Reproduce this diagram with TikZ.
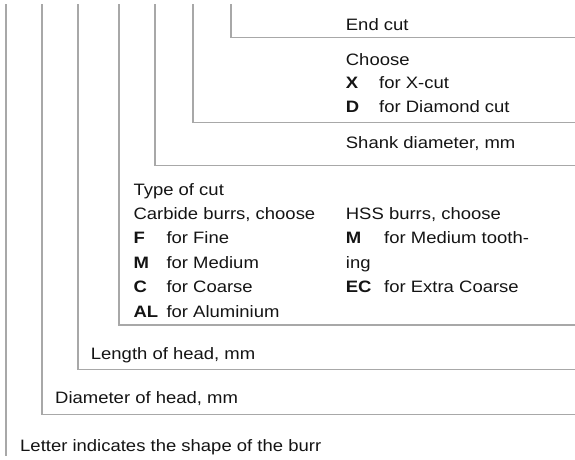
\documentclass[tikz,border=0pt]{standalone}
\usepackage{fontspec}
\setmainfont{Liberation Sans}[FakeStretch=1.12]
\definecolor{linegray}{RGB}{168,168,168}
\definecolor{txt}{RGB}{20,20,20}
\begin{document}
\begin{tikzpicture}[x=1pt,y=-1pt,
  lbl/.style={anchor=base west,inner sep=0pt,text=txt,font=\fontsize{16.5}{24}\selectfont},
  code/.style={lbl,font=\fontsize{16.5}{24}\selectfont\bfseries},
  leader/.style={draw=linegray,line width=1.3pt}]
\useasboundingbox (0,0) rectangle (575,459);
% leader corners
\coordinate (t1) at (6,4);   \coordinate (e1) at (6,456);
\coordinate (t2) at (42,4);  \coordinate (e2) at (575,414.3);
\coordinate (t3) at (78,4);  \coordinate (e3) at (575,369.3);
\coordinate (t4) at (119,4); \coordinate (e4) at (575,325);
\coordinate (t5) at (155,4); \coordinate (e5) at (575,165.7);
\coordinate (t6) at (193,4); \coordinate (e6) at (575,122.7);
\coordinate (t7) at (231,4); \coordinate (e7) at (575,37.7);
\draw[leader] (t1) -- (e1);
\draw[leader] (t2) |- (e2);
\draw[leader] (t3) |- (e3);
\draw[leader] (t4) |- (e4);
\draw[leader] (t5) |- (e5);
\draw[leader] (t6) |- (e6);
\draw[leader] (t7) |- (e7);
% texts
\node[lbl] (endcut) at (345.7,30.6) {End cut};
\node[lbl] (choose) at (345.7,65) {Choose};
\node[code] (cX) at (345.7,88.5) {X};
\node[lbl] (dX) at (379,88.5) {for X-cut};
\node[code] (cD) at (345.7,112) {D};
\node[lbl] (dD) at (379,112) {for Diamond cut};
\node[lbl] (shank) at (345.7,148.4) {Shank diameter, mm};
\node[lbl] (type) at (133.3,195.7) {Type of cut};
\node[lbl] (carb) at (133.3,219.5) {Carbide burrs, choose};
\node[code] (cF) at (133.3,243.8) {F};
\node[lbl] (dF) at (166.3,243.8) {for Fine};
\node[code] (cM) at (133.3,268) {M};
\node[lbl] (dM) at (166.3,268) {for Medium};
\node[code] (cC) at (133.3,292.2) {C};
\node[lbl] (dC) at (166.3,292.2) {for Coarse};
\node[code] (cAL) at (133.3,317) {AL};
\node[lbl] (dAL) at (166.3,317) {for Aluminium};
\node[lbl] (hss) at (345.7,219.5) {HSS burrs, choose};
\node[code] (hM) at (345.7,243.8) {M};
\node[lbl] (hdM) at (384,243.8) {for Medium tooth-};
\node[lbl] (hing) at (345.7,268) {ing};
\node[code] (hEC) at (345.7,292.2) {EC};
\node[lbl] (hdEC) at (384,292.2) {for Extra Coarse};
\node[lbl] (len) at (90.7,359) {Length of head, mm};
\node[lbl] (dia) at (55,403.4) {Diameter of head, mm};
\node[lbl] (letter) at (20,451) {Letter indicates the shape of the burr};
\end{tikzpicture}
\end{document}
